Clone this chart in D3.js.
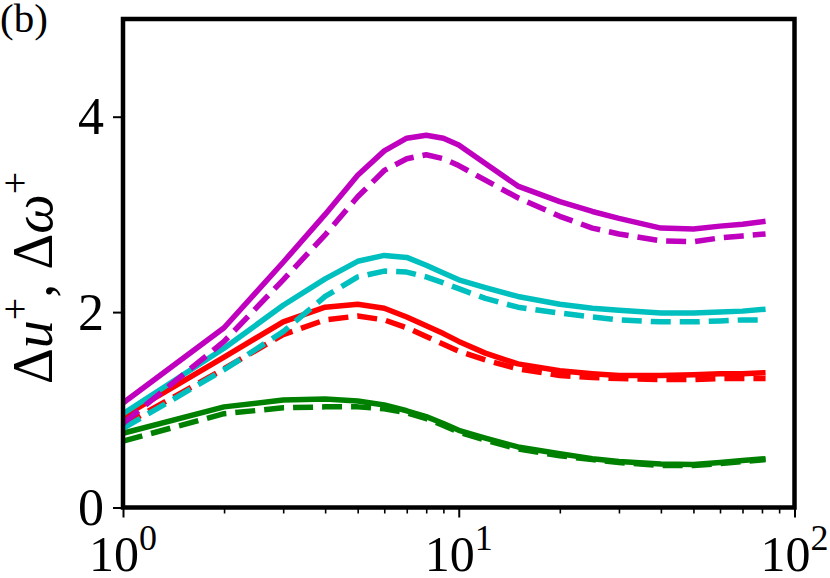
<!DOCTYPE html>
<html><head><meta charset="utf-8">
<script src="https://cdn.jsdelivr.net/npm/d3@7"></script>
<style>
html,body{margin:0;padding:0;background:#fff;}
svg{display:block;}
text{font-family:"Liberation Serif","DejaVu Serif",serif;fill:#000;}
</style></head>
<body><svg id="chart" width="830" height="578"></svg>
<script>
// ---- data ----
const xValues = [1, 2, 3, 4, 5, 6, 7, 8, 9, 10, 12, 15, 20, 25, 30, 40, 50, 60, 70, 82];
const purpleSolid  = [1.07, 1.84, 2.51, 3.00, 3.40, 3.65, 3.78, 3.81, 3.78, 3.71, 3.52, 3.29, 3.13, 3.03, 2.96, 2.86, 2.85, 2.88, 2.90, 2.93];
const purpleDashed = [0.86, 1.70, 2.33, 2.79, 3.18, 3.45, 3.57, 3.61, 3.57, 3.50, 3.35, 3.17, 2.98, 2.86, 2.80, 2.73, 2.72, 2.76, 2.78, 2.80];
const cyanSolid    = [0.96, 1.63, 2.07, 2.34, 2.52, 2.58, 2.56, 2.48, 2.40, 2.33, 2.25, 2.16, 2.08, 2.04, 2.02, 1.99, 1.99, 2.00, 2.01, 2.03];
const cyanDashed   = [0.81, 1.41, 1.80, 2.16, 2.36, 2.42, 2.41, 2.36, 2.30, 2.24, 2.14, 2.05, 1.99, 1.95, 1.92, 1.90, 1.90, 1.91, 1.92, 1.92];
const redSolid     = [0.93, 1.54, 1.90, 2.05, 2.08, 2.04, 1.95, 1.86, 1.78, 1.70, 1.58, 1.47, 1.40, 1.37, 1.35, 1.35, 1.36, 1.37, 1.37, 1.38];
const redDashed    = [0.84, 1.42, 1.77, 1.92, 1.96, 1.92, 1.84, 1.75, 1.67, 1.60, 1.51, 1.42, 1.35, 1.33, 1.32, 1.31, 1.31, 1.32, 1.32, 1.32];
const greenSolid   = [0.76, 1.03, 1.10, 1.11, 1.09, 1.05, 0.99, 0.93, 0.86, 0.79, 0.71, 0.62, 0.55, 0.50, 0.47, 0.445, 0.44, 0.46, 0.48, 0.50];
const greenDashed  = [0.68, 0.96, 1.02, 1.03, 1.03, 1.01, 0.97, 0.91, 0.84, 0.77, 0.69, 0.60, 0.53, 0.49, 0.46, 0.43, 0.43, 0.45, 0.47, 0.49];
const seriesNames  = ["green", "red", "cyan", "purple"];
const seriesColors = ["#008000", "#ff0000", "#00bfbf", "#bf00bf"];
const xMajorTicks = [1, 10, 100];
const xTickExponents = ["0", "1", "2"];
const xMinorTicks = [2,3,4,5,6,7,8,9,20,30,40,50,60,70,80,90];
const yTicks = [0, 2, 4];
const panelLabel = "(b)";

// ---- layout ----
const svg = d3.select("#chart");
const L = 123, R = 794.5, T = 19, B = 507.5;
const x = d3.scaleLog().domain([1, 100]).range([L, R]);
const y = d3.scaleLinear().domain([0, 5]).range([B, T]);

const DASH = "20,9";
const series = [
  {vals: greenSolid, c: 0, dash: null},
  {vals: greenDashed, c: 0, dash: DASH},
  {vals: redSolid, c: 1, dash: null},
  {vals: redDashed, c: 1, dash: DASH},
  {vals: cyanSolid, c: 2, dash: null},
  {vals: cyanDashed, c: 2, dash: DASH},
  {vals: purpleSolid, c: 3, dash: null},
  {vals: purpleDashed, c: 3, dash: DASH}
];
const line = d3.line().x(d => x(d[0])).y(d => y(d[1]));
series.forEach(s => {
  svg.append("path")
    .attr("d", line(xValues.map((v, i) => [v, s.vals[i]])))
    .attr("fill", "none")
    .attr("stroke", seriesColors[s.c])
    .attr("stroke-width", 5.5)
    .attr("stroke-linejoin", "round")
    .attr("stroke-dasharray", s.dash);
});

// axes ticks
const xAxisMajor = d3.axisBottom(x).tickValues(xMajorTicks).tickFormat("").tickSizeInner(10).tickSizeOuter(0);
const xAxisMinor = d3.axisBottom(x).tickValues(xMinorTicks).tickFormat("").tickSizeInner(6).tickSizeOuter(0);
const yAxis = d3.axisLeft(y).tickValues(yTicks).tickFormat("").tickSizeInner(10).tickSizeOuter(0);
[xAxisMajor, xAxisMinor].forEach((ax, k) => {
  const g = svg.append("g").attr("transform", `translate(0,${B})`).call(ax);
  g.select(".domain").remove();
  g.selectAll("line").attr("stroke", "#000").attr("stroke-width", k === 0 ? 2 : 1.6);
});
const gy = svg.append("g").attr("transform", `translate(${L},0)`).call(yAxis);
gy.select(".domain").remove();
gy.selectAll("line").attr("stroke", "#000").attr("stroke-width", 2);

// frame
svg.append("rect").attr("x", L).attr("y", T).attr("width", R - L).attr("height", B - T)
  .attr("fill", "none").attr("stroke", "#000").attr("stroke-width", 4.5);

// tick labels
yTicks.forEach(v => {
  svg.append("text").attr("x", 104).attr("y", y(v)).attr("dy", "0.34em")
    .attr("text-anchor", "end").attr("font-size", 52).text(v);
});
xMajorTicks.forEach((v, i) => {
  const t = svg.append("text").attr("x", x(v)).attr("y", 571)
    .attr("text-anchor", "middle").attr("font-size", 50);
  t.append("tspan").text("10");
  t.append("tspan").attr("font-size", 36).attr("dy", -21).text(xTickExponents[i]);
});

// y label
const yl = svg.append("text").attr("transform", "translate(52,278) rotate(-90)")
  .attr("text-anchor", "middle").attr("font-size", 56);
yl.append("tspan").text("Δ");
yl.append("tspan").attr("font-style", "italic").text("u");
yl.append("tspan").attr("font-size", 40).attr("dy", -24).text("+");
yl.append("tspan").attr("dy", 24).text(", Δ");
yl.append("tspan").attr("font-style", "italic").text("ω");
yl.append("tspan").attr("font-size", 40).attr("dy", -24).text("+");

svg.append("text").attr("x", 0).attr("y", 32).attr("font-size", 41).text(panelLabel);
</script></body></html>
